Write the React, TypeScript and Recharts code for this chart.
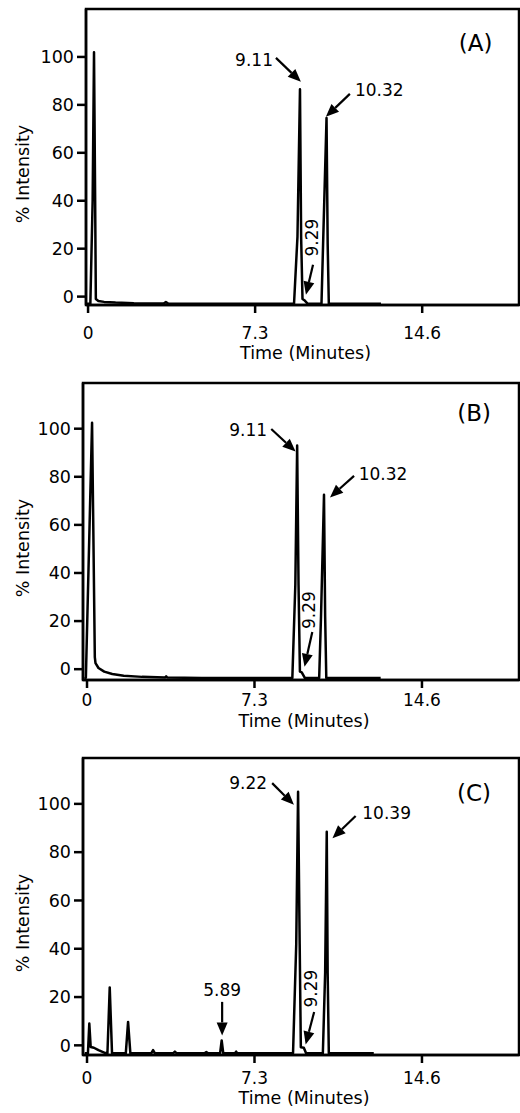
import { LineChart, Line, XAxis, YAxis, ReferenceArea, ReferenceLine, ReferenceDot, Label } from "recharts";

const FONT = "DejaVu Sans";

// x ticks / y ticks
const X_TICKS = [0, 7.3, 14.6];
const Y_TICKS = [0, 20, 40, 60, 80, 100];

// panel A trace
const TIME_A = [-0.1, 0.1, 0.2, 0.26, 0.31, 0.34, 0.45, 0.7, 1.2, 2.0, 3.3, 3.4, 3.5, 5.0, 8.9, 9.0, 9.15, 9.26, 9.31, 9.37, 9.45, 9.6, 10.2, 10.27, 10.42, 10.47, 10.52, 12.8];
const INT_A = [-3, -3, 40, 102, 40, -1, -1.8, -2.2, -2.5, -2.8, -2.9, -2.3, -2.9, -3, -3, -3, 25, 86.5, 25, -1, -1.5, -3, -3, 22, 74.5, 22, -3, -3];

// panel B trace
const TIME_B = [-0.1, -0.05, 0.22, 0.34, 0.37, 0.5, 0.75, 1.1, 1.6, 2.4, 3.4, 3.45, 3.5, 5.0, 8.95, 9.08, 9.16, 9.22, 9.28, 9.36, 9.5, 10.12, 10.2, 10.33, 10.38, 10.43, 12.8];
const INT_B = [-4, -3.5, 102.5, 5, 2.5, 0.5, -1, -2, -2.7, -3.2, -3.5, -3, -3.5, -3.7, -3.7, 35, 93, 35, -1, -1.3, -3.7, -3.7, 22, 72.5, 22, -3.7, -3.7];

// panel C trace
const TIME_C = [-0.1, 0.04, 0.1, 0.16, 0.3, 0.5, 0.8,
  0.89, 0.99, 1.09,
  1.69, 1.79, 1.89,
  2.8, 2.88, 2.96,
  3.75, 3.83, 3.91,
  5.12, 5.2, 5.28,
  5.8, 5.87, 5.94,
  6.45, 6.5, 6.55,
  8.98, 9.12, 9.2, 9.27, 9.32, 9.45, 9.55,
  10.28, 10.38, 10.45, 10.49, 10.54,
  12.5];
const INT_C = [-3.3, -3.3, 9, -0.7, -1, -2, -3.2,
  -3.3, 24, -3.3,
  -3.3, 9.7, -3.3,
  -3.3, -2, -3.3,
  -3.3, -2.6, -3.3,
  -3.3, -2.8, -3.3,
  -3.3, 2, -3.3,
  -3.3, -2.6, -3.3,
  -3.3, 42, 105, 42, -0.8, -1, -3.3,
  -3.3, 30, 88.5, 30, -3.3,
  -3.3];

// peak labels: [text, t, v, anchor]
const LABELS_A: [string, number, number, string][] = [
  ["9.11", 8.08, 98.8, "end"],
  ["10.32", 11.66, 86.2, "start"],
  ["9.29", 9.78, 24.6, "rot"],
  ["(A)", 16.93, 105.8, "big"],
];
const ARROWS_A = [
  [8.21, 99.6, 9.3, 89.6],
  [11.44, 84.6, 10.39, 75],
  [9.83, 13.3, 9.52, 0.8],
];

const LABELS_B: [string, number, number, string][] = [
  ["9.11", 7.85, 99.6, "end"],
  ["10.32", 11.84, 81.25, "start"],
  ["9.29", 9.66, 24.6, "rot"],
  ["(B)", 16.87, 106.7, "big"],
];
const ARROWS_B = [
  [8.03, 99.9, 9.09, 90.5],
  [11.64, 80.4, 10.59, 71.4],
  [9.82, 15.5, 9.48, 1.0],
];

const LABELS_C: [string, number, number, string][] = [
  ["9.22", 7.85, 108.6, "end"],
  ["10.39", 12.0, 96.1, "start"],
  ["5.89", 5.89, 23.1, "middle"],
  ["9.29", 9.75, 23.5, "rot"],
  ["(C)", 16.87, 104.4, "big"],
];
const ARROWS_C = [
  [8.07, 108.6, 9.02, 99.6],
  [11.71, 95, 10.7, 85.8],
  [5.89, 18, 5.89, 4.1],
  [9.9, 13.8, 9.53, 0.4],
];

const Arrow = (p: any) => {
  const { x1, y1, x2, y2 } = p;
  const dx = x2 - x1, dy = y2 - y1;
  const len = Math.hypot(dx, dy) || 1;
  const ux = dx / len, uy = dy / len;
  const hl = 13, hw = 5.5;
  const bx = x2 - ux * hl, by = y2 - uy * hl;
  const px = -uy, py = ux;
  return (
    <g>
      <line x1={x1} y1={y1} x2={bx} y2={by} stroke="#000" strokeWidth={2.2} />
      <polygon points={`${x2},${y2} ${bx + px * hw},${by + py * hw} ${bx - px * hw},${by - py * hw}`} fill="#000" />
    </g>
  );
};

const makeText = (text: string, kind: string) => (p: any) => {
  const { cx, cy } = p;
  if (kind === "rot") {
    return (
      <text x={cx} y={cy} transform={`rotate(-90, ${cx}, ${cy})`} textAnchor="middle" dominantBaseline="central"
        fontFamily={FONT} fontSize={17} fill="#000">{text}</text>
    );
  }
  return (
    <text x={cx} y={cy} textAnchor={kind === "big" ? "middle" : kind} dominantBaseline="central"
      fontFamily={FONT} fontSize={kind === "big" ? 23 : 17} fill="#000">{text}</text>
  );
};

const Panel = ({ time, vals, labels, arrows, top, height, plotLeft, xMin, yMin, yMax, xAxisH, tickGap, titleDy }: any) => {
  const data = time.map((t: number, i: number) => ({ t, v: vals[i] }));
  const xMax = 18.83;
  return (
    <LineChart width={520} height={height} data={data} margin={{ top, right: 1, bottom: 0, left: 0 }}>
      <ReferenceArea x1={xMin} x2={xMax} y1={yMin} y2={yMax} fill="none" stroke="#000" strokeWidth={2.5} ifOverflow="visible" />
      <XAxis dataKey="t" type="number" domain={[xMin, xMax]} ticks={X_TICKS} interval={0} allowDataOverflow
        height={xAxisH} tickSize={8} tickMargin={tickGap} stroke="#000" strokeWidth={2.5}
        tick={{ fill: "#000", fontFamily: FONT, fontSize: 17 }}>
        <Label content={(p: any) => {
          const vb = p.viewBox;
          return (
            <text x={vb.x + vb.width / 2 + 3} y={vb.y + titleDy} textAnchor="middle" fontFamily={FONT} fontSize={17.5} fill="#000">
              Time (Minutes)
            </text>
          );
        }} />
      </XAxis>
      <YAxis type="number" domain={[yMin, yMax]} ticks={Y_TICKS} interval={0} allowDataOverflow width={plotLeft}
        tickSize={9} tickMargin={3} stroke="#000" strokeWidth={2.5}
        tick={{ fill: "#000", fontFamily: FONT, fontSize: 17.5 }}>
        <Label content={(p: any) => {
          const vb = p.viewBox;
          const cy = vb.y + 165;
          return (
            <text x={23} y={cy} transform={`rotate(-90, 23, ${cy})`} textAnchor="middle" dominantBaseline="central"
              fontFamily={FONT} fontSize={17.5} fill="#000">
              % Intensity
            </text>
          );
        }} />
      </YAxis>
      <Line type="linear" dataKey="v" stroke="#000" strokeWidth={2.5} dot={false} isAnimationActive={false} strokeLinejoin="round" />
      {arrows.map((a: number[], i: number) => (
        <ReferenceLine key={`a${i}`} segment={[{ x: a[0], y: a[1] }, { x: a[2], y: a[3] }]} ifOverflow="visible" shape={Arrow} />
      ))}
      {labels.map((l: any, i: number) => (
        <ReferenceDot key={`l${i}`} x={l[1]} y={l[2]} r={0} ifOverflow="visible" shape={makeText(l[0], l[3])} />
      ))}
    </LineChart>
  );
};

export default function App() {
  return (
    <div style={{ position: "absolute", left: 0, top: 0, width: 520, background: "#fff" }}>
      <Panel time={TIME_A} vals={INT_A} labels={LABELS_A} arrows={ARROWS_A} top={9} height={372} plotLeft={86}
        xMin={-0.09} yMin={-3.5} yMax={120} xAxisH={67} tickGap={14} titleDy={54} />
      <Panel time={TIME_B} vals={INT_B} labels={LABELS_B} arrows={ARROWS_B} top={11} height={372} plotLeft={83}
        xMin={-0.175} yMin={-4.5} yMax={119} xAxisH={64} tickGap={6} titleDy={47} />
      <Panel time={TIME_C} vals={INT_C} labels={LABELS_C} arrows={ARROWS_C} top={14} height={369} plotLeft={83}
        xMin={-0.175} yMin={-4} yMax={119} xAxisH={58} tickGap={9} titleDy={49} />
    </div>
  );
}
